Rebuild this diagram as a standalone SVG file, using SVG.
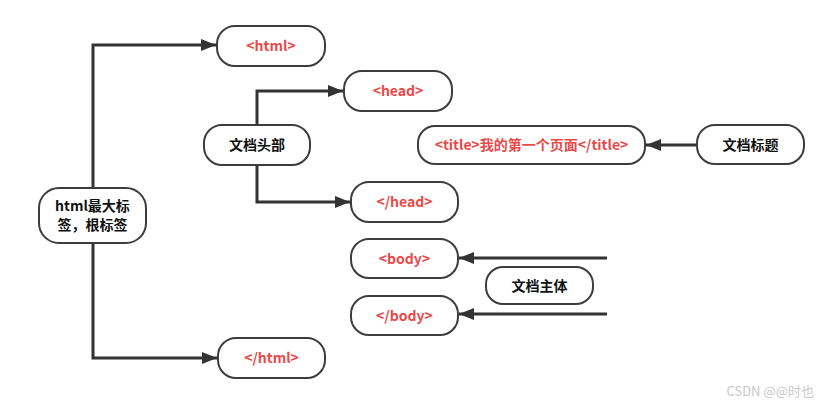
<svg xmlns="http://www.w3.org/2000/svg" width="831" height="404" viewBox="0 0 831 404">
<style>
.n{fill:#fff;stroke:#3d3d3d;stroke-width:2}
.r{fill:#e84a4a;font-family:"Noto Sans CJK SC","Noto Sans",sans-serif;font-size:14px;font-weight:bold;text-anchor:middle}
.k{fill:#111;font-family:"Noto Sans CJK SC","Noto Sans",sans-serif;font-size:14px;font-weight:bold;text-anchor:middle}
.c{fill:none;stroke:#333;stroke-width:3}
</style>
<defs>
<marker id="a" markerWidth="5" markerHeight="4" refX="5" refY="2" orient="auto" markerUnits="strokeWidth">
<path d="M0,0 L5,2 L0,4 Z" fill="#333"/>
</marker>
</defs>
<rect width="831" height="404" fill="#fff"/>
<g id="connectors">
<path class="c" d="M93,188 V45 H216" marker-end="url(#a)"/>
<path class="c" d="M93,243 V358 H217" marker-end="url(#a)"/>
<path class="c" d="M257,125 V91 H343" marker-end="url(#a)"/>
<path class="c" d="M257,165 V202 H350" marker-end="url(#a)"/>
<path class="c" d="M697,145 H646" marker-end="url(#a)"/>
<path class="c" d="M607,258 H459" marker-end="url(#a)"/>
<path class="c" d="M607,314 H459" marker-end="url(#a)"/>
</g>
<g id="root"><rect class="n" x="39" y="188" width="107" height="55" rx="20"/><text class="k" x="92.5" y="211">html最大标</text><text class="k" x="92.5" y="230">签，根标签</text></g>
<g id="html"><rect class="n" x="217" y="26" width="108" height="40" rx="18"/><text class="r" x="271" y="51">&lt;html&gt;</text></g>
<g id="head-sec"><rect class="n" x="204" y="125" width="106" height="40" rx="18"/><text class="k" x="257" y="150">文档头部</text></g>
<g id="head"><rect class="n" x="344" y="71" width="108" height="40" rx="18"/><text class="r" x="398" y="96">&lt;head&gt;</text></g>
<g id="title"><rect class="n" x="418" y="126" width="227" height="38" rx="17"/><text class="r" x="531.5" y="150">&lt;title&gt;我的第一个页面&lt;/title&gt;</text></g>
<g id="title-lbl"><rect class="n" x="697" y="125" width="107" height="39" rx="18"/><text class="k" x="750.5" y="149.5">文档标题</text></g>
<g id="head-end"><rect class="n" x="351" y="182" width="107" height="40" rx="18"/><text class="r" x="404.5" y="207">&lt;/head&gt;</text></g>
<g id="body"><rect class="n" x="351" y="239" width="107" height="39" rx="18"/><text class="r" x="404.5" y="263.5">&lt;body&gt;</text></g>
<g id="body-lbl"><rect class="n" x="486" y="267" width="107" height="37" rx="17"/><text class="k" x="539.5" y="290.5">文档主体</text></g>
<g id="body-end"><rect class="n" x="351" y="296" width="107" height="39" rx="18"/><text class="r" x="404.5" y="320.5">&lt;/body&gt;</text></g>
<g id="html-end"><rect class="n" x="218" y="338" width="107" height="40" rx="18"/><text class="r" x="271.5" y="363">&lt;/html&gt;</text></g>
<text x="814" y="396" font-family="'Noto Sans CJK SC','Noto Sans',sans-serif" font-size="13" fill="#c8c8c8" text-anchor="end">CSDN @@时也</text>
</svg>
